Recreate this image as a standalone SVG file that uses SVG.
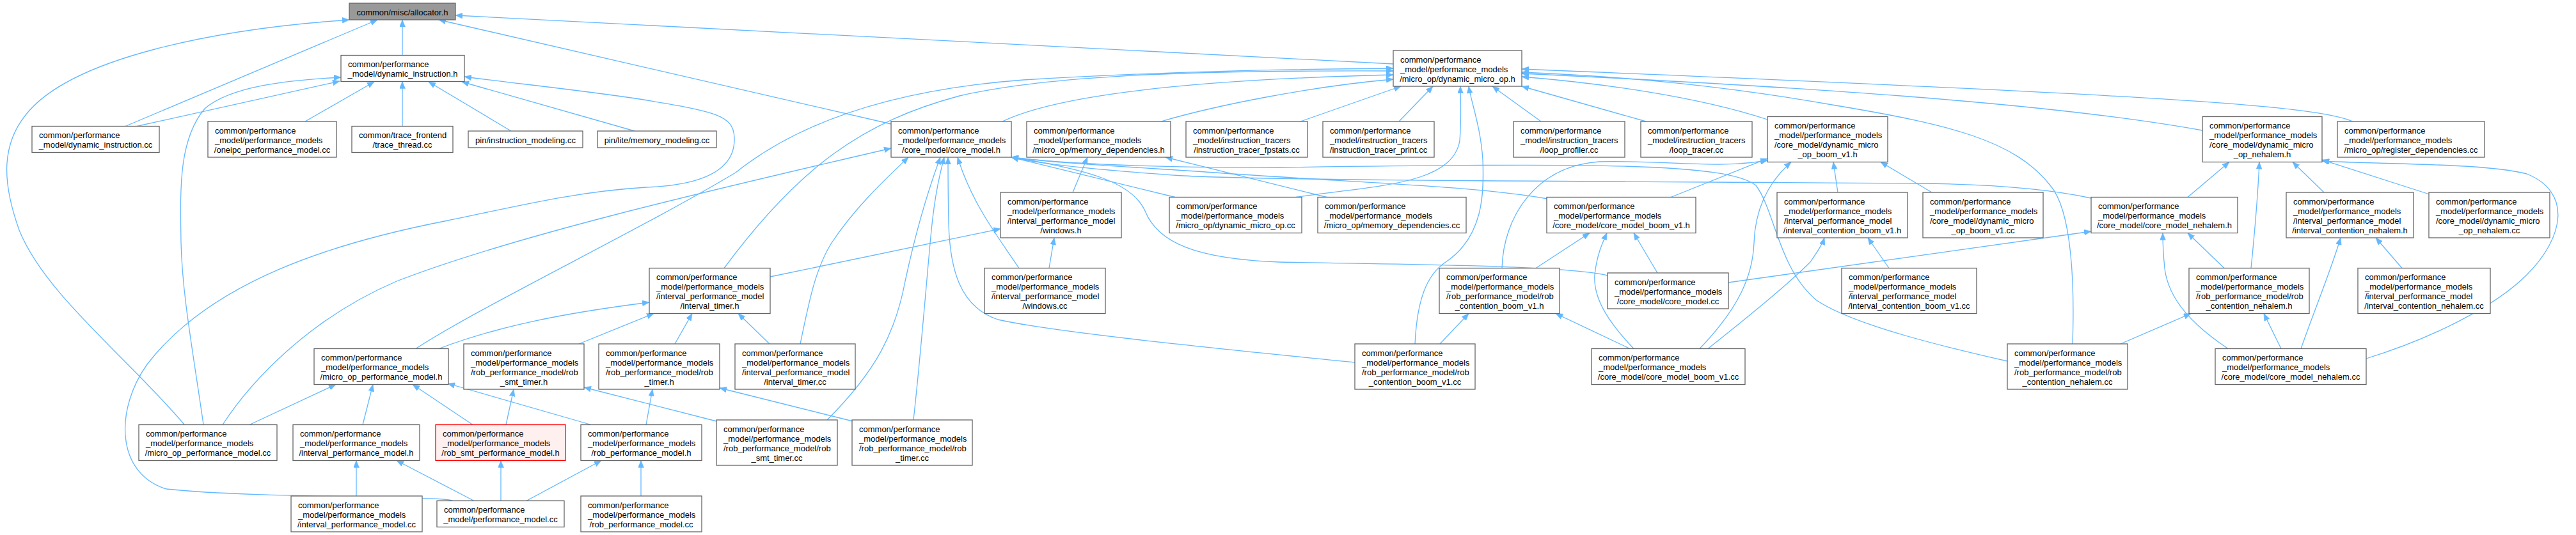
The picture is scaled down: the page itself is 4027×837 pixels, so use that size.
<svg xmlns="http://www.w3.org/2000/svg" width="4027" height="837" viewBox="0 0 4027 837">
<style>
rect{fill:#fff;stroke:#666;stroke-width:1.3}
.root rect{fill:#999}
.hl rect{fill:#fff0f0;stroke:#f00}
text{font-family:"Liberation Sans",Arial,Helvetica,sans-serif;font-size:13px;fill:#000}
.m{text-anchor:middle}
#edges path{fill:none;stroke:#63b8ff;stroke-width:1.3;marker-end:url(#a)}
</style>
<defs><marker id="a" viewBox="0 0 11 9" refX="11" refY="4.5" markerWidth="11" markerHeight="9" markerUnits="userSpaceOnUse" orient="auto"><path d="M0,0L11,4.5L0,9z" fill="#63b8ff" stroke="#63b8ff" stroke-width="0.5"/></marker></defs>
<rect x="0" y="0" width="4027" height="837" style="fill:#fff;stroke:none"/>
<g id="edges">
<path d="M629,86.5L629,31"/>
<path d="M196,197.5L590,31"/>
<path d="M288,664C200,560 70,460 30,360C5,290 0,230 40,180C110,90 340,45 546,31"/>
<path d="M1393,194L686,31"/>
<path d="M2178,100L712,24"/>
<path d="M214,197.5L531,127"/>
<path d="M318,664C300,540 285,460 283,380C282,300 278,220 320,170C360,135 450,125 533,121"/>
<path d="M477,190L585,128"/>
<path d="M629,197.5L629,127.5"/>
<path d="M799,205L670,128"/>
<path d="M992,205L722,128"/>
<path d="M708,783.5C690,775 400,780 260,765C180,740 180,640 230,570C330,440 520,380 700,345C820,320 900,300 1010,293C1090,290 1150,270 1148,215C1146,180 1120,175 1000,155C900,140 800,130 726,120"/>
<path d="M1567,190C1650,150 1850,125 2178,117"/>
<path d="M1815,190C1900,165 2050,135 2178,124"/>
<path d="M2033,190L2190,135"/>
<path d="M2187,190L2240,135"/>
<path d="M2409,190L2333,135"/>
<path d="M2573,190L2379,135"/>
<path d="M2763,187C2650,150 2500,130 2379,120"/>
<path d="M3443,204C3200,160 2800,135 2379,115"/>
<path d="M3678,190C3620,165 3400,150 2379,108"/>
<path d="M2026,308.5C2150,290 2270,290 2282,220C2285,180 2283,160 2283,135"/>
<path d="M1132,419.5C1250,260 1350,190 1500,150C1650,115 1900,110 2178,111"/>
<path d="M650,545.5C750,480 1000,360 1150,270C1250,190 1400,140 1600,125C1800,113 2000,108 2178,107"/>
<path d="M2212,538C2215,470 2230,430 2260,410C2320,370 2320,300 2318,250C2315,200 2300,160 2296,135"/>
<path d="M3240,538C3243,450 3240,330 3205,290C3150,220 3050,195 2870,165C2700,135 2550,120 2379,113"/>
<path d="M1837,308.5L1581,246"/>
<path d="M2419,311C2300,290 2100,285 1900,270C1750,260 1650,255 1581,246"/>
<path d="M3269,310C3200,295 3100,288 3000,287C2600,284 2000,283 1850,275C1700,265 1620,255 1581,246"/>
<path d="M2513,431C2450,415 2200,414 2000,410C1870,405 1810,380 1790,330C1770,285 1700,265 1581,246"/>
<path d="M3138,565C3050,545 2900,510 2840,470C2780,420 2775,330 2745,290C2700,255 2500,255 2000,262C1800,263 1650,255 1581,246"/>
<path d="M1593,419.5C1560,370 1520,320 1497,246"/>
<path d="M1251,538C1265,470 1275,420 1300,380C1340,320 1390,275 1420,246"/>
<path d="M1293,657C1370,580 1400,520 1415,440C1430,370 1450,300 1470,246"/>
<path d="M1428,657C1440,550 1450,420 1456,360C1462,300 1470,270 1476,246"/>
<path d="M2118,567C1900,545 1650,520 1560,500C1500,480 1485,420 1483,350C1482,300 1482,270 1482,246"/>
<path d="M348,664.5C390,600 480,500 620,440C800,370 1100,300 1393,232"/>
<path d="M1677,301L1700,246"/>
<path d="M2074,308.5L1822,246"/>
<path d="M1204,433L1564,358"/>
<path d="M1640,419.5L1648,372"/>
<path d="M2612,308.5L2763,248"/>
<path d="M2348,419.5C2350,340 2400,260 2500,253C2600,250 2680,265 2763,251"/>
<path d="M2657,545.5C2720,480 2740,430 2742,380C2744,320 2770,280 2800,253.5"/>
<path d="M2873,301L2866,253.5"/>
<path d="M3020,301L2940,253.5"/>
<path d="M2401,419.5L2485,364.5"/>
<path d="M2591,427L2554,364.5"/>
<path d="M2554,545.5C2520,510 2490,470 2493,430C2496,400 2505,380 2512,364.5"/>
<path d="M2548,545.5L2432,490.5"/>
<path d="M2670,545.5C2740,490 2800,440 2830,410C2840,395 2848,385 2852,372"/>
<path d="M2953,419.5L2920,372"/>
<path d="M2251,538L2296,490.5"/>
<path d="M3420,308.5L3485,253.5"/>
<path d="M3519,419.5C3525,360 3530,300 3532,253.5"/>
<path d="M3633,301L3584,253.5"/>
<path d="M3798,304L3630,250"/>
<path d="M3699,561C3800,530 3900,480 3950,430C4010,370 4020,300 3950,272C3880,255 3750,258 3630,252"/>
<path d="M2702,442L3269,362"/>
<path d="M3477,419.5L3420,364.5"/>
<path d="M3483,545.5C3430,510 3390,470 3384,420C3382,400 3381,380 3381,364.5"/>
<path d="M3315,538L3425,490.5"/>
<path d="M3566,545.5L3539,490.5"/>
<path d="M3597,545.5C3620,480 3645,420 3659,372"/>
<path d="M3755,419.5L3714,372"/>
<path d="M686,545.5C780,510 880,490 1015,473"/>
<path d="M905,538L1022,490.5"/>
<path d="M1055,538L1082,490.5"/>
<path d="M1203,538L1154,490.5"/>
<path d="M390,664.5L525,601.5"/>
<path d="M567,664.5L583,601.5"/>
<path d="M739,664.5L645,601.5"/>
<path d="M924,664.5L700,600"/>
<path d="M791,664.5L803,609"/>
<path d="M1120,659L913,606"/>
<path d="M1010,664.5L1020,609"/>
<path d="M1333,659L1125,607"/>
<path d="M557,776L557,720.5"/>
<path d="M741,783.5L620,720.5"/>
<path d="M783,783.5L783,720.5"/>
<path d="M823,783.5L940,720.5"/>
<path d="M1002,776L1002,720.5"/>
</g>
<g id="n0" class="root"><rect x="546" y="5" width="166" height="26"/><text class="m" x="629" y="23.5">common/misc/allocator.h</text></g>
<g id="n1"><rect x="533" y="86.5" width="193" height="41"/><text x="544" y="105">common/performance</text><text class="m" x="629.5" y="120">_model/dynamic_instruction.h</text></g>
<g id="n2"><rect x="50" y="197.5" width="199" height="41"/><text x="61" y="216">common/performance</text><text class="m" x="149.5" y="231">_model/dynamic_instruction.cc</text></g>
<g id="n3"><rect x="325" y="190" width="201" height="56"/><text x="336" y="208.5">common/performance</text><text x="336" y="223.5">_model/performance_models</text><text class="m" x="425.5" y="238.5">/oneipc_performance_model.cc</text></g>
<g id="n4"><rect x="550" y="197.5" width="158" height="41"/><text x="561" y="216">common/trace_frontend</text><text class="m" x="629" y="231">/trace_thread.cc</text></g>
<g id="n5"><rect x="732" y="205" width="179" height="26"/><text class="m" x="821.5" y="223.5">pin/instruction_modeling.cc</text></g>
<g id="n6"><rect x="934" y="205" width="186" height="26"/><text class="m" x="1027" y="223.5">pin/lite/memory_modeling.cc</text></g>
<g id="n7"><rect x="1393" y="190" width="188" height="56"/><text x="1404" y="208.5">common/performance</text><text x="1404" y="223.5">_model/performance_models</text><text class="m" x="1487" y="238.5">/core_model/core_model.h</text></g>
<g id="n8"><rect x="1605" y="190" width="225" height="56"/><text x="1616" y="208.5">common/performance</text><text x="1616" y="223.5">_model/performance_models</text><text class="m" x="1717.5" y="238.5">/micro_op/memory_dependencies.h</text></g>
<g id="n9"><rect x="1854" y="190" width="190" height="56"/><text x="1865" y="208.5">common/performance</text><text x="1865" y="223.5">_model/instruction_tracers</text><text class="m" x="1949" y="238.5">/instruction_tracer_fpstats.cc</text></g>
<g id="n10"><rect x="2178" y="79" width="201" height="56"/><text x="2189" y="97.5">common/performance</text><text x="2189" y="112.5">_model/performance_models</text><text class="m" x="2278.5" y="127.5">/micro_op/dynamic_micro_op.h</text></g>
<g id="n11"><rect x="2068" y="190" width="174" height="56"/><text x="2079" y="208.5">common/performance</text><text x="2079" y="223.5">_model/instruction_tracers</text><text class="m" x="2155" y="238.5">/instruction_tracer_print.cc</text></g>
<g id="n12"><rect x="2366" y="190" width="174" height="56"/><text x="2377" y="208.5">common/performance</text><text x="2377" y="223.5">_model/instruction_tracers</text><text class="m" x="2453" y="238.5">/loop_profiler.cc</text></g>
<g id="n13"><rect x="2565" y="190" width="174" height="56"/><text x="2576" y="208.5">common/performance</text><text x="2576" y="223.5">_model/instruction_tracers</text><text class="m" x="2652" y="238.5">/loop_tracer.cc</text></g>
<g id="n14"><rect x="2763" y="182.5" width="188" height="71"/><text x="2774" y="201">common/performance</text><text x="2774" y="216">_model/performance_models</text><text x="2774" y="231">/core_model/dynamic_micro</text><text class="m" x="2857" y="246">_op_boom_v1.h</text></g>
<g id="n15"><rect x="3443" y="182.5" width="187" height="71"/><text x="3454" y="201">common/performance</text><text x="3454" y="216">_model/performance_models</text><text x="3454" y="231">/core_model/dynamic_micro</text><text class="m" x="3536.5" y="246">_op_nehalem.h</text></g>
<g id="n16"><rect x="3654" y="190" width="230" height="56"/><text x="3665" y="208.5">common/performance</text><text x="3665" y="223.5">_model/performance_models</text><text class="m" x="3769" y="238.5">/micro_op/register_dependencies.cc</text></g>
<g id="n17"><rect x="1564" y="301" width="189" height="71"/><text x="1575" y="319.5">common/performance</text><text x="1575" y="334.5">_model/performance_models</text><text x="1575" y="349.5">/interval_performance_model</text><text class="m" x="1658.5" y="364.5">/windows.h</text></g>
<g id="n18"><rect x="1828" y="308.5" width="207" height="56"/><text x="1839" y="327">common/performance</text><text x="1839" y="342">_model/performance_models</text><text class="m" x="1931.5" y="357">/micro_op/dynamic_micro_op.cc</text></g>
<g id="n19"><rect x="2060" y="308.5" width="232" height="56"/><text x="2071" y="327">common/performance</text><text x="2071" y="342">_model/performance_models</text><text class="m" x="2176" y="357">/micro_op/memory_dependencies.cc</text></g>
<g id="n20"><rect x="2418" y="308.5" width="233" height="56"/><text x="2429" y="327">common/performance</text><text x="2429" y="342">_model/performance_models</text><text class="m" x="2534.5" y="357">/core_model/core_model_boom_v1.h</text></g>
<g id="n21"><rect x="2778" y="301" width="204" height="71"/><text x="2789" y="319.5">common/performance</text><text x="2789" y="334.5">_model/performance_models</text><text x="2789" y="349.5">/interval_performance_model</text><text class="m" x="2880" y="364.5">/interval_contention_boom_v1.h</text></g>
<g id="n22"><rect x="3006" y="301" width="188" height="71"/><text x="3017" y="319.5">common/performance</text><text x="3017" y="334.5">_model/performance_models</text><text x="3017" y="349.5">/core_model/dynamic_micro</text><text class="m" x="3100" y="364.5">_op_boom_v1.cc</text></g>
<g id="n23"><rect x="3269" y="308.5" width="229" height="56"/><text x="3280" y="327">common/performance</text><text x="3280" y="342">_model/performance_models</text><text class="m" x="3383.5" y="357">/core_model/core_model_nehalem.h</text></g>
<g id="n24"><rect x="3574" y="301" width="199" height="71"/><text x="3585" y="319.5">common/performance</text><text x="3585" y="334.5">_model/performance_models</text><text x="3585" y="349.5">/interval_performance_model</text><text class="m" x="3673.5" y="364.5">/interval_contention_nehalem.h</text></g>
<g id="n25"><rect x="3797" y="301" width="189" height="71"/><text x="3808" y="319.5">common/performance</text><text x="3808" y="334.5">_model/performance_models</text><text x="3808" y="349.5">/core_model/dynamic_micro</text><text class="m" x="3891.5" y="364.5">_op_nehalem.cc</text></g>
<g id="n26"><rect x="1015" y="419.5" width="189" height="71"/><text x="1026" y="438">common/performance</text><text x="1026" y="453">_model/performance_models</text><text x="1026" y="468">/interval_performance_model</text><text class="m" x="1109.5" y="483">/interval_timer.h</text></g>
<g id="n27"><rect x="1539" y="419.5" width="189" height="71"/><text x="1550" y="438">common/performance</text><text x="1550" y="453">_model/performance_models</text><text x="1550" y="468">/interval_performance_model</text><text class="m" x="1633.5" y="483">/windows.cc</text></g>
<g id="n28"><rect x="2250" y="419.5" width="188" height="71"/><text x="2261" y="438">common/performance</text><text x="2261" y="453">_model/performance_models</text><text x="2261" y="468">/rob_performance_model/rob</text><text class="m" x="2344" y="483">_contention_boom_v1.h</text></g>
<g id="n29"><rect x="2513" y="427" width="189" height="56"/><text x="2524" y="445.5">common/performance</text><text x="2524" y="460.5">_model/performance_models</text><text class="m" x="2607.5" y="475.5">/core_model/core_model.cc</text></g>
<g id="n30"><rect x="2879" y="419.5" width="211" height="71"/><text x="2890" y="438">common/performance</text><text x="2890" y="453">_model/performance_models</text><text x="2890" y="468">/interval_performance_model</text><text class="m" x="2984.5" y="483">/interval_contention_boom_v1.cc</text></g>
<g id="n31"><rect x="3422" y="419.5" width="188" height="71"/><text x="3433" y="438">common/performance</text><text x="3433" y="453">_model/performance_models</text><text x="3433" y="468">/rob_performance_model/rob</text><text class="m" x="3516" y="483">_contention_nehalem.h</text></g>
<g id="n32"><rect x="3686" y="419.5" width="207" height="71"/><text x="3697" y="438">common/performance</text><text x="3697" y="453">_model/performance_models</text><text x="3697" y="468">/interval_performance_model</text><text class="m" x="3789.5" y="483">/interval_contention_nehalem.cc</text></g>
<g id="n33"><rect x="491" y="545.5" width="210" height="56"/><text x="502" y="564">common/performance</text><text x="502" y="579">_model/performance_models</text><text class="m" x="596" y="594">/micro_op_performance_model.h</text></g>
<g id="n34"><rect x="725" y="538" width="188" height="71"/><text x="736" y="556.5">common/performance</text><text x="736" y="571.5">_model/performance_models</text><text x="736" y="586.5">/rob_performance_model/rob</text><text class="m" x="819" y="601.5">_smt_timer.h</text></g>
<g id="n35"><rect x="936" y="538" width="189" height="71"/><text x="947" y="556.5">common/performance</text><text x="947" y="571.5">_model/performance_models</text><text x="947" y="586.5">/rob_performance_model/rob</text><text class="m" x="1030.5" y="601.5">_timer.h</text></g>
<g id="n36"><rect x="1149" y="538" width="188" height="71"/><text x="1160" y="556.5">common/performance</text><text x="1160" y="571.5">_model/performance_models</text><text x="1160" y="586.5">/interval_performance_model</text><text class="m" x="1243" y="601.5">/interval_timer.cc</text></g>
<g id="n37"><rect x="2118" y="538" width="188" height="71"/><text x="2129" y="556.5">common/performance</text><text x="2129" y="571.5">_model/performance_models</text><text x="2129" y="586.5">/rob_performance_model/rob</text><text class="m" x="2212" y="601.5">_contention_boom_v1.cc</text></g>
<g id="n38"><rect x="2488" y="545.5" width="240" height="56"/><text x="2499" y="564">common/performance</text><text x="2499" y="579">_model/performance_models</text><text class="m" x="2608" y="594">/core_model/core_model_boom_v1.cc</text></g>
<g id="n39"><rect x="3138" y="538" width="188" height="71"/><text x="3149" y="556.5">common/performance</text><text x="3149" y="571.5">_model/performance_models</text><text x="3149" y="586.5">/rob_performance_model/rob</text><text class="m" x="3232" y="601.5">_contention_nehalem.cc</text></g>
<g id="n40"><rect x="3463" y="545.5" width="236" height="56"/><text x="3474" y="564">common/performance</text><text x="3474" y="579">_model/performance_models</text><text class="m" x="3581" y="594">/core_model/core_model_nehalem.cc</text></g>
<g id="n41"><rect x="217" y="664.5" width="216" height="56"/><text x="228" y="683">common/performance</text><text x="228" y="698">_model/performance_models</text><text class="m" x="325" y="713">/micro_op_performance_model.cc</text></g>
<g id="n42"><rect x="458" y="664.5" width="198" height="56"/><text x="469" y="683">common/performance</text><text x="469" y="698">_model/performance_models</text><text class="m" x="557" y="713">/interval_performance_model.h</text></g>
<g id="n43" class="hl"><rect x="681" y="664.5" width="203" height="56"/><text x="692" y="683">common/performance</text><text x="692" y="698">_model/performance_models</text><text class="m" x="782.5" y="713">/rob_smt_performance_model.h</text></g>
<g id="n44"><rect x="908" y="664.5" width="189" height="56"/><text x="919" y="683">common/performance</text><text x="919" y="698">_model/performance_models</text><text class="m" x="1002.5" y="713">/rob_performance_model.h</text></g>
<g id="n45"><rect x="1120" y="657" width="189" height="71"/><text x="1131" y="675.5">common/performance</text><text x="1131" y="690.5">_model/performance_models</text><text x="1131" y="705.5">/rob_performance_model/rob</text><text class="m" x="1214.5" y="720.5">_smt_timer.cc</text></g>
<g id="n46"><rect x="1332" y="657" width="188" height="71"/><text x="1343" y="675.5">common/performance</text><text x="1343" y="690.5">_model/performance_models</text><text x="1343" y="705.5">/rob_performance_model/rob</text><text class="m" x="1426" y="720.5">_timer.cc</text></g>
<g id="n47"><rect x="455" y="776" width="205" height="56"/><text x="466" y="794.5">common/performance</text><text x="466" y="809.5">_model/performance_models</text><text class="m" x="557.5" y="824.5">/interval_performance_model.cc</text></g>
<g id="n48"><rect x="683" y="783.5" width="199" height="41"/><text x="694" y="802">common/performance</text><text class="m" x="782.5" y="817">_model/performance_model.cc</text></g>
<g id="n49"><rect x="908" y="776" width="189" height="56"/><text x="919" y="794.5">common/performance</text><text x="919" y="809.5">_model/performance_models</text><text class="m" x="1002.5" y="824.5">/rob_performance_model.cc</text></g>
</svg>
